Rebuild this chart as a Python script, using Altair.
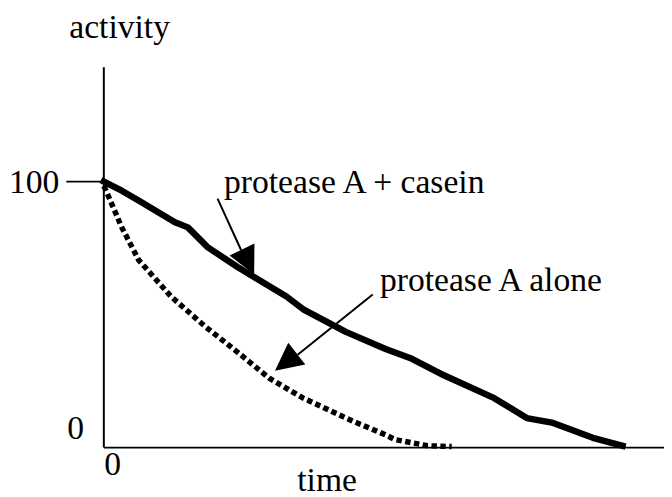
import altair as alt
import pandas as pd

# ---- data (time in % of axis length, activity in %) ----
casein_time = [0, 3.2, 6.2, 12.7, 15.0, 18.5, 23.8, 32.6, 35.6, 43.2, 50.3, 55.0, 60.8, 69.7, 75.5, 80.2, 87.3, 92.6]
casein_act = [100, 96.6, 92.9, 84.7, 82.8, 75.4, 68.0, 56.8, 52.0, 43.5, 37.1, 33.4, 27.1, 18.6, 11.1, 9.3, 3.7, 0.7]
alone_time = [0, 0.4, 3.2, 6.2, 12.0, 18.0, 23.8, 29.6, 35.6, 44.4, 50.3, 52.0, 57.8, 62.1]
alone_act = [98.4, 96.6, 82.8, 70.6, 56.8, 45.7, 36.0, 26.0, 18.6, 10.0, 4.8, 3.0, 0.7, 0.4]

# axis lines and the single y tick
rule_x = [0, 0, -6.7]
rule_y = [0, 0, 100]
rule_x2 = [0, 100, 0]
rule_y2 = [143, 0, 100]

# annotation arrows (shaft start -> end, head centre + direction)
arrow_x = [20.3, 48.0]
arrow_y = [93.6, 57.6]
arrow_x2 = [24.5, 34.6]
arrow_y2 = [74.3, 34.9]
head_x = [25.75, 32.5]
head_y = [69.8, 32.1]
head_angle = [154, 232]

# texts
labels = ["activity", "100", "0", "0", "time", "protease A + casein", "protease A alone"]
label_x = [2.82, -12.43, -5.03, 1.59, 39.86, 44.7, 69.1]
label_y = [153.9, 95.9, 3.34, -10.4, -16.4, 95.9, 58.8]

X_DOM = [0, 100]
Y_DOM = [0, 143]
xsc = alt.Scale(domain=X_DOM, nice=False, zero=False)
ysc = alt.Scale(domain=Y_DOM, nice=False, zero=False)

series = pd.concat([
    pd.DataFrame({"t": casein_time, "a": casein_act, "s": "casein", "o": range(len(casein_time))}),
    pd.DataFrame({"t": alone_time, "a": alone_act, "s": "alone", "o": range(len(alone_time))}),
])

rules = pd.DataFrame({"x": rule_x, "y": rule_y, "x2": rule_x2, "y2": rule_y2})
arrows = pd.DataFrame({"x": arrow_x, "y": arrow_y, "x2": arrow_x2, "y2": arrow_y2})
heads = pd.DataFrame({"x": head_x, "y": head_y, "ang": head_angle})
texts = pd.DataFrame({"label": labels, "x": label_x, "y": label_y})

FONT = "'Liberation Serif', 'Times New Roman', serif"

axes = alt.Chart(rules).mark_rule(color="black", strokeWidth=2).encode(
    x=alt.X("x:Q", scale=xsc, axis=None),
    y=alt.Y("y:Q", scale=ysc, axis=None),
    x2="x2:Q",
    y2="y2:Q",
)

solid = alt.Chart(series[series.s == "casein"]).mark_line(
    color="black", strokeWidth=6.5, strokeJoin="round", strokeCap="square"
).encode(
    x=alt.X("t:Q", scale=xsc, axis=None),
    y=alt.Y("a:Q", scale=ysc, axis=None),
    order="o:Q",
)

dotted = alt.Chart(series[series.s == "alone"]).mark_line(
    color="black", strokeWidth=5.5, strokeDash=[5.5, 3.5]
).encode(
    x=alt.X("t:Q", scale=xsc, axis=None),
    y=alt.Y("a:Q", scale=ysc, axis=None),
    order="o:Q",
)

shafts = alt.Chart(arrows).mark_rule(color="black", strokeWidth=2).encode(
    x=alt.X("x:Q", scale=xsc, axis=None),
    y=alt.Y("y:Q", scale=ysc, axis=None),
    x2="x2:Q",
    y2="y2:Q",
)

arrowheads = alt.Chart(heads).mark_point(
    shape="M0,-1L1,1L-1,1Z", filled=True, color="black", opacity=1, size=784
).encode(
    x=alt.X("x:Q", scale=xsc, axis=None),
    y=alt.Y("y:Q", scale=ysc, axis=None),
    angle=alt.Angle("ang:Q", scale=None),
)

text = alt.Chart(texts).mark_text(
    font=FONT, fontSize=34, color="black", align="center", baseline="alphabetic"
).encode(
    x=alt.X("x:Q", scale=xsc, axis=None),
    y=alt.Y("y:Q", scale=ysc, axis=None),
    text="label:N",
)

chart = alt.layer(axes, dotted, solid, shafts, arrowheads, text).properties(
    width=567,
    height=385,
    autosize=alt.AutoSizeParams(type="none"),
    padding={"left": 97, "top": 57, "right": 0, "bottom": 47},
    background="white",
).configure_view(stroke=None)

chart.save("out.html", embed_options={"renderer": "svg", "actions": False})
